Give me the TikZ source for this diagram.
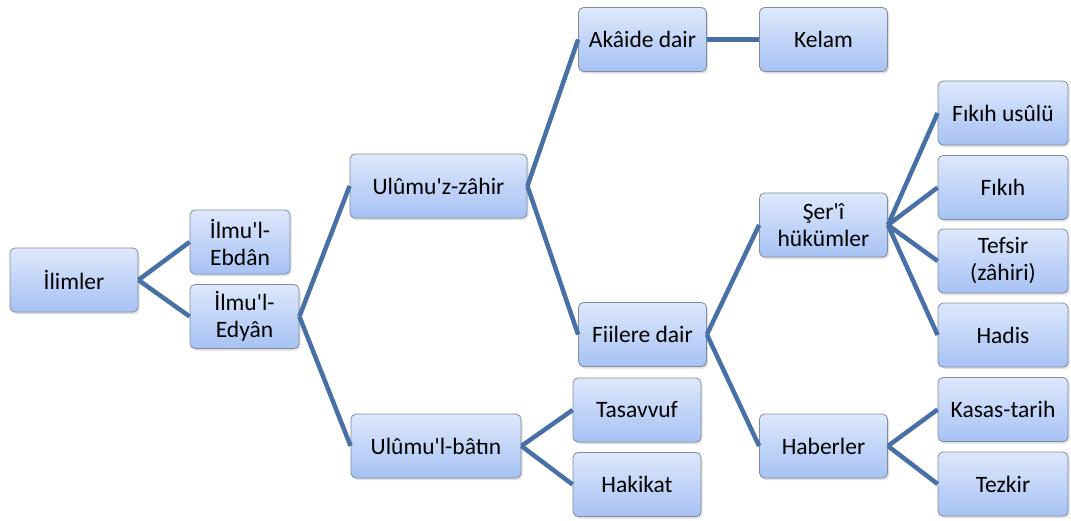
\documentclass[tikz,border=0pt]{standalone}
\usepackage{fontspec}
\setmainfont{Carlito}[Ligatures=TeXOff]
\usetikzlibrary{shadows}

\definecolor{boxtop}{RGB}{222,232,252}
\definecolor{boxbottom}{RGB}{166,194,244}
\definecolor{boxline}{RGB}{128,140,158}
\definecolor{linkblue}{RGB}{72,112,166}

\tikzset{
  box/.style={rectangle, rounded corners=5pt, draw=boxline, line width=0.8pt,
    top color=boxtop, bottom color=boxbottom, minimum width=128pt,
    minimum height=64pt, align=center, inner sep=2pt,
    font=\fontsize{23.5}{27}\selectfont,
    drop shadow={opacity=0.25, shadow xshift=1.5pt, shadow yshift=-2pt}},
  link/.style={draw=linkblue, line width=4.5pt}
}

\begin{document}
\begin{tikzpicture}[x=1pt,y=-1pt]
\useasboundingbox (0,0) rectangle (1071,520);
% level 0 and 1
\node[box] (ilimler) at (74,280) {İlimler};
\node[box, minimum width=100pt] (ebdan) at (240,242) {İlmu'l-\\Ebdân};
\node[box, minimum width=109pt] (edyan) at (244.5,316.5) {İlmu'l-\\Edyân};
% level 2
\node[box, minimum width=177pt] (zahir) at (438.5,186) {Ulûmu'z-zâhir};
\node[box, minimum width=170pt] (batin) at (436,446) {Ulûmu'l-bâtın};
% level 3
\node[box] (akaide) at (642.5,39.5) {Akâide dair};
\node[box] (fiilere) at (642.5,334.5) {Fiilere dair};
\node[box] (tasavvuf) at (637,410) {Tasavvuf};
\node[box] (hakikat) at (637,484.5) {Hakikat};
% level 4
\node[box] (kelam) at (823.5,39.5) {Kelam};
\node[box] (seri) at (823.5,225) {Şer'î\\hükümler};
\node[box] (haberler) at (823.5,446) {Haberler};
% level 5
\node[box, minimum width=130pt] (usul) at (1003,113) {Fıkıh usûlü};
\node[box, minimum width=130pt] (fikih) at (1003,187.5) {Fıkıh};
\node[box, minimum width=130pt] (tefsir) at (1003,261) {Tefsir\\(zâhiri)};
\node[box, minimum width=130pt] (hadis) at (1003,335) {Hadis};
\node[box, minimum width=130pt] (kasas) at (1003,409.5) {Kasas-tarih};
\node[box, minimum width=130pt] (tezkir) at (1003,484) {Tezkir};

% connectors
\draw[link] (ilimler.east) -- (ebdan.west);
\draw[link] (ilimler.east) -- (edyan.west);
\draw[link] (edyan.east) -- (zahir.west);
\draw[link] (edyan.east) -- (batin.west);
\draw[link] (zahir.east) -- (akaide.west);
\draw[link] (zahir.east) -- (fiilere.west);
\draw[link] (batin.east) -- (tasavvuf.west);
\draw[link] (batin.east) -- (hakikat.west);
\draw[link] (akaide.east) -- (kelam.west);
\draw[link] (fiilere.east) -- (seri.west);
\draw[link] (fiilere.east) -- (haberler.west);
\draw[link] (seri.east) -- (usul.west);
\draw[link] (seri.east) -- (fikih.west);
\draw[link] (seri.east) -- (tefsir.west);
\draw[link] (seri.east) -- (hadis.west);
\draw[link] (haberler.east) -- (kasas.west);
\draw[link] (haberler.east) -- (tezkir.west);
\end{tikzpicture}
\end{document}
